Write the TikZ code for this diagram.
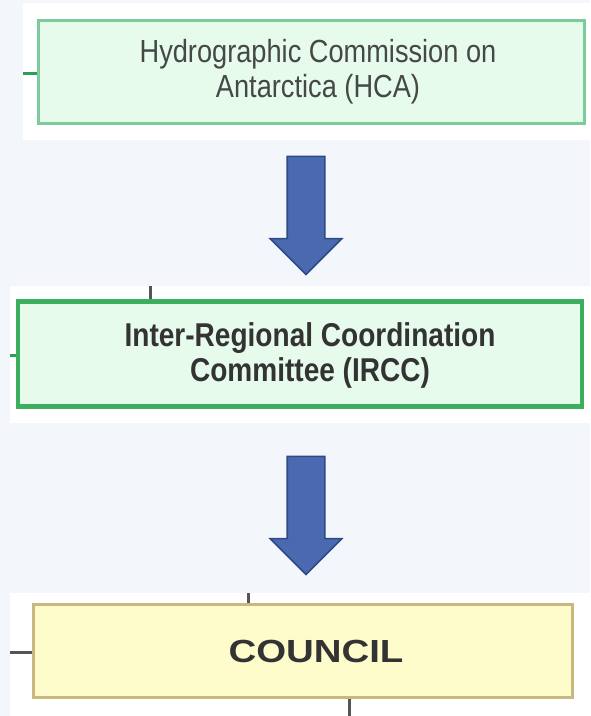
\documentclass[tikz,border=0pt]{standalone}
\usepackage{fontspec}
\setmainfont{Liberation Sans}
\newfontfamily\narrowfont[FakeStretch=0.85]{Liberation Sans}
\newfontfamily\widefont[FakeStretch=1.2]{Liberation Sans}
\usetikzlibrary{shapes.arrows}
\definecolor{pagebg}{HTML}{F3F7FC}
\definecolor{mint}{HTML}{E6FBEC}
\definecolor{paleline}{HTML}{7CCB98}
\definecolor{deepline}{HTML}{3DAE5E}
\definecolor{cream}{HTML}{FFFCCB}
\definecolor{tanline}{HTML}{C9B77E}
\definecolor{arrowblue}{HTML}{4A69B0}
\definecolor{arrowedge}{HTML}{2E4A86}
\definecolor{stubgreen}{HTML}{2E9E55}
\definecolor{stubgray}{HTML}{555555}
\definecolor{inkgray}{HTML}{454847}
\definecolor{inkdark}{HTML}{333333}
\begin{document}
\begin{tikzpicture}[x=1pt,y=-1pt,
   box/.style = {shape=rectangle, inner sep=0pt},
   hcabox/.style = {box, draw=paleline, line width=3pt, fill=mint,
        minimum width=546pt, minimum height=103pt},
   irccbox/.style = {box, draw=deepline, line width=4.5pt, fill=mint,
        minimum width=564pt, minimum height=105pt},
   councilbox/.style = {box, draw=tanline, line width=3pt, fill=cream,
        minimum width=539pt, minimum height=93pt},
   boxtext/.style = {align=center, inner sep=0pt},
   blockarrow/.style = {shape=single arrow, draw=arrowedge, line width=1.6pt,
        fill=arrowblue, rotate=-90, inner sep=0pt,
        single arrow head extend=17pt, single arrow head indent=0pt,
        minimum height=118pt},
   greenstub/.style = {draw=stubgreen, line width=3pt},
   graystub/.style = {draw=stubgray, line width=3pt},
  ]
\useasboundingbox (0,0) rectangle (590,716);
\fill[pagebg] (0,0) rectangle (590,716);
\fill[white] (23,3) rectangle (590,140);
\fill[white] (10,286) rectangle (590,423);
\fill[white] (10,593) rectangle (590,716);

\node[hcabox] (hca) at (311,71.5) {};
\node[irccbox] (ircc) at (300,354) {};
\node[councilbox] (council) at (302.5,650.5) {};

\node[boxtext, text=inkgray, font=\narrowfont\fontsize{32}{35}\selectfont]
    (hcalabel) at ([xshift=7pt]hca.center) {Hydrographic Commission on\\Antarctica (HCA)};
\node[boxtext, text=inkdark, font=\narrowfont\bfseries\fontsize{33}{35}\selectfont]
    (irccl) at ([xshift=10pt,yshift=-1pt]ircc.center) {Inter-Regional Coordination\\Committee (IRCC)};
\node[boxtext, text=inkdark, font=\widefont\bfseries\fontsize{32}{36}\selectfont]
    (councillabel) at ([xshift=13.5pt,yshift=-1pt]council.center) {COUNCIL};

\node[blockarrow] (down1) at (306,206) {\rule{0pt}{36pt}};
\node[blockarrow] (down2) at (306,506) {\rule{0pt}{36pt}};

\coordinate (hcaend) at (23,73);
\coordinate (irccup) at (150,286);
\coordinate (irccend) at (10,355);
\coordinate (councilup) at (248,593);
\coordinate (councilend) at (10,652);
\coordinate (councildown) at (349,716);
\draw[greenstub] (hcaend) -- (hcaend -| hca.west);
\draw[graystub] (irccup) -- (irccup |- ircc.north);
\draw[greenstub] (irccend) -- (irccend -| ircc.west);
\draw[graystub] (councilup) -- (councilup |- council.north);
\draw[graystub] (councilend) -- (councilend -| council.west);
\draw[graystub] (council.south -| councildown) -- (councildown);
\end{tikzpicture}
\end{document}
